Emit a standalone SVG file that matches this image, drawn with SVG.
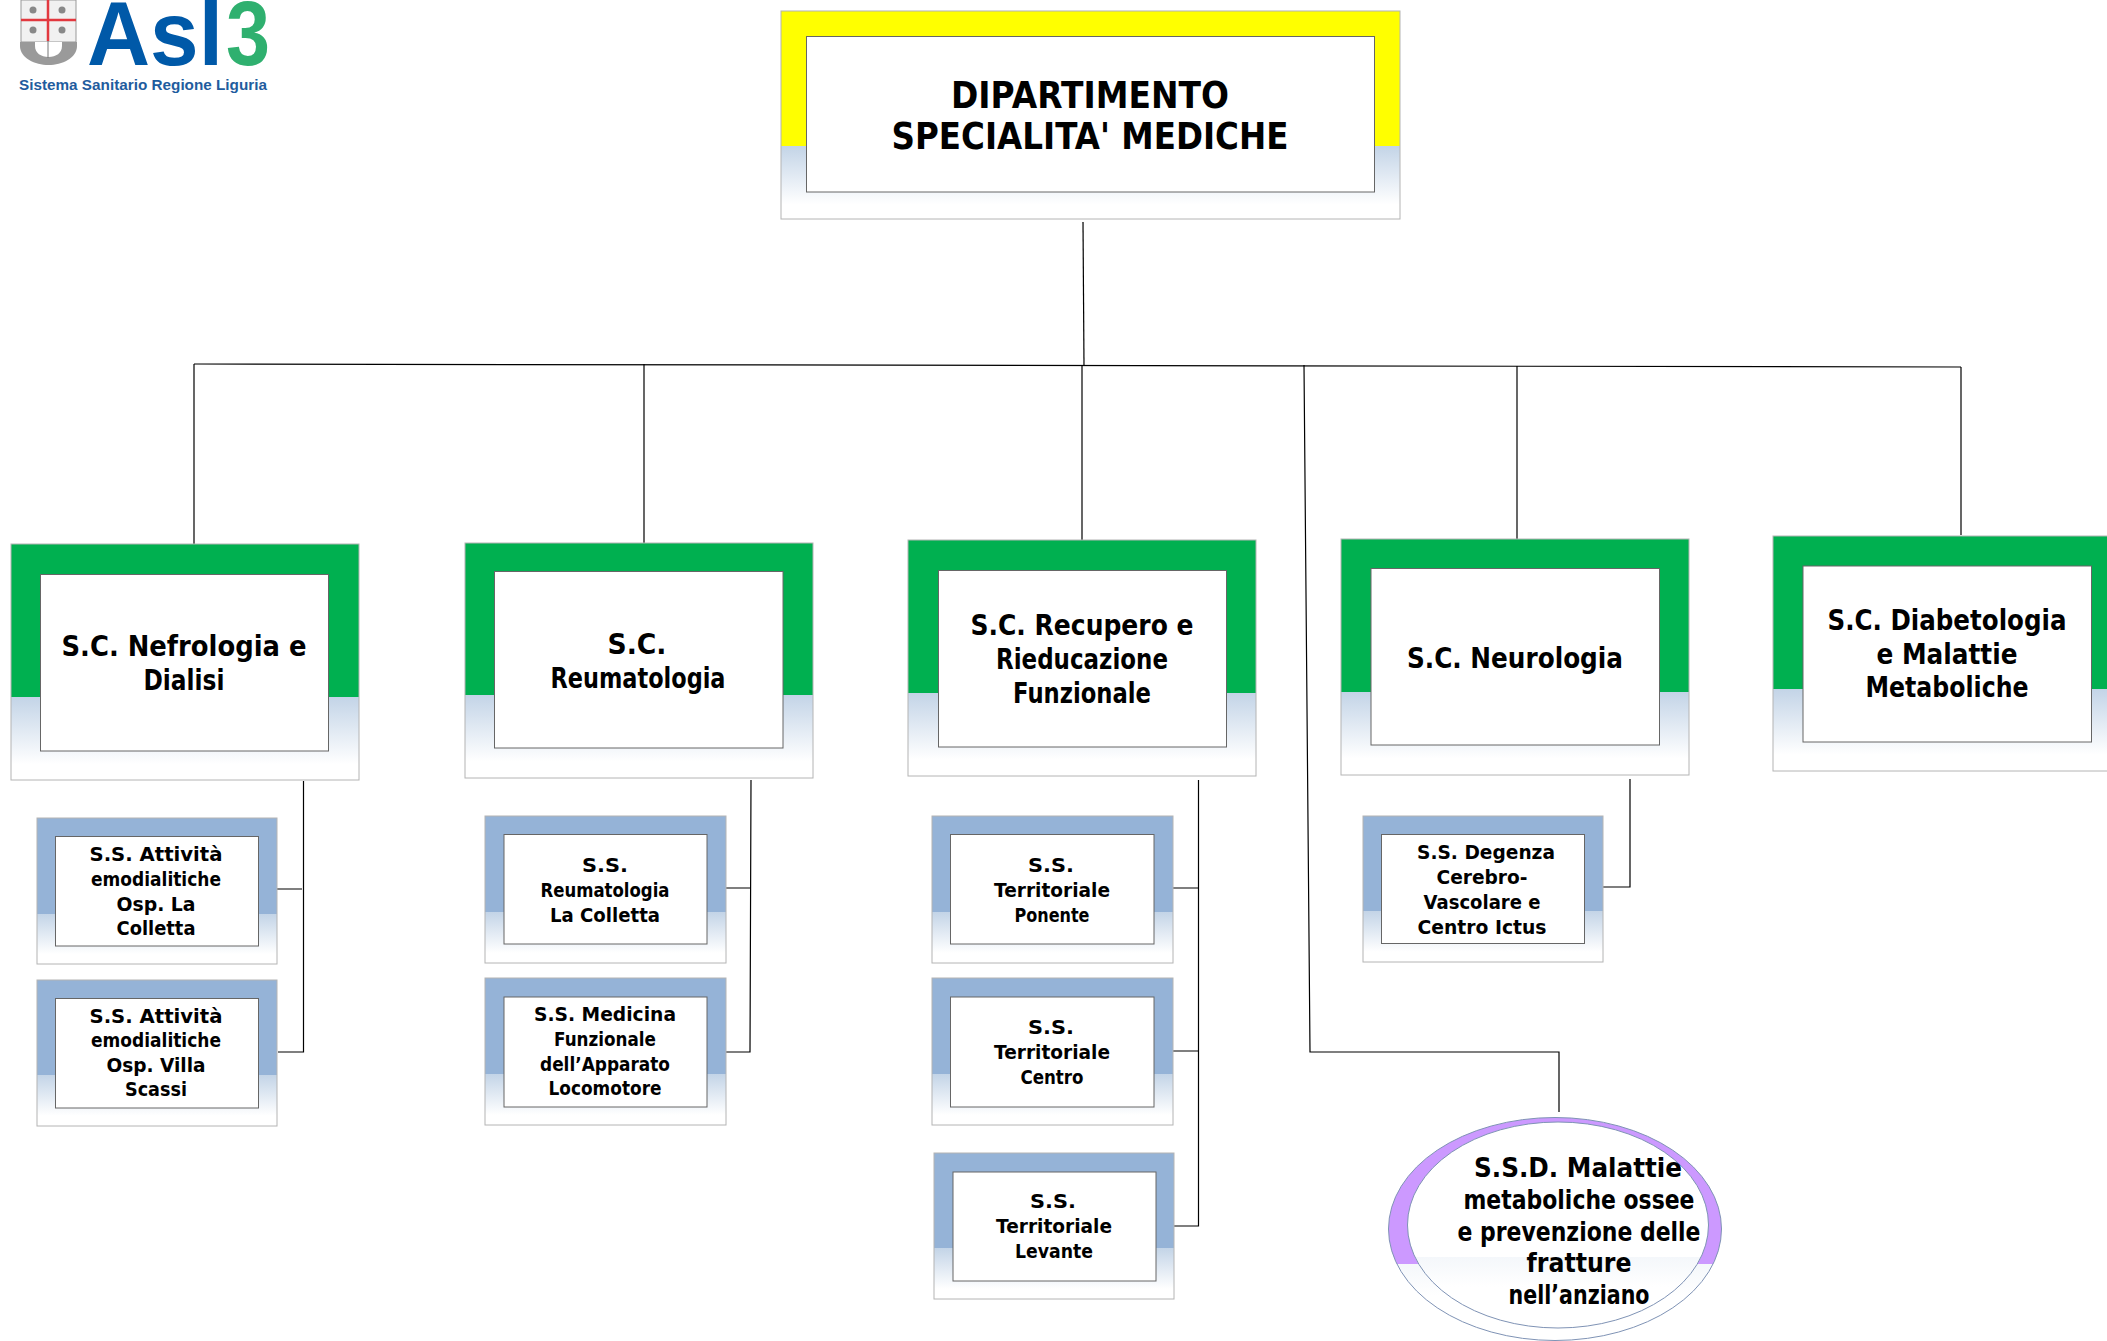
<svg xmlns="http://www.w3.org/2000/svg" width="2107" height="1341" viewBox="0 0 2107 1341">
<defs>
<linearGradient id="fade" x1="0" y1="0" x2="0" y2="1"><stop offset="0" stop-color="#c3d4e7"/><stop offset="0.8" stop-color="#ffffff"/></linearGradient>
<clipPath id="ellTop"><rect x="1380" y="1110" width="350" height="154"/></clipPath>
<clipPath id="ellBot"><rect x="1380" y="1264" width="350" height="77"/></clipPath>
<clipPath id="innerBot"><rect x="1380" y="1257" width="350" height="84"/></clipPath>
</defs>
<style>
text{font-family:"DejaVu Sans","Liberation Sans",sans-serif;font-weight:bold;fill:#000;text-anchor:middle}
.t{font-size:37px}.c{font-size:28px}.s{font-size:20px}.e{font-size:27px}
.o{fill:none;stroke:#b4b4b4;stroke-width:1}
.i{fill:#fff;stroke:#666;stroke-width:1}
.f{fill:url(#fade)}
.y{fill:#ffff00}.g{fill:#00b050}.b{fill:#95b3d7}.p{fill:#cc99ff}
.l{fill:none;stroke:#000;stroke-width:1.200}
</style>

<g id="logo">
<path d="M21 0H76V42H21Z" fill="#f1f1f1" stroke="#999" stroke-width="1"/>
<path d="M20 42H77V46C77 58 62 65 48.500 65C35 65 20 58 20 46Z" fill="#9a9a9a"/>
<path d="M35 42H62V46C62 53 56 57 48.500 57C41 57 35 53 35 46Z" fill="#fff"/>
<path d="M48 0V58" stroke="#777" stroke-width="1"/>
<path d="M48 0V41M21 20H76" stroke="#e2383f" stroke-width="2.500"/>
<circle cx="33" cy="10" r="3.500" fill="#888"/><circle cx="62" cy="10" r="3.500" fill="#888"/><circle cx="33" cy="30" r="3.500" fill="#888"/><circle cx="62" cy="30" r="3.500" fill="#888"/>
<text x="155" y="65" textLength="136" lengthAdjust="spacingAndGlyphs" style="font-family:'Liberation Sans',sans-serif;font-size:90px;fill:#0059a8">Asl</text>
<text x="248" y="65" textLength="44" lengthAdjust="spacingAndGlyphs" style="font-family:'Liberation Sans',sans-serif;font-size:90px;fill:#2fb06f">3</text>
<text x="143" y="90" textLength="248" lengthAdjust="spacingAndGlyphs" style="font-family:'Liberation Sans',sans-serif;font-size:15px;fill:#1f5c9e">Sistema Sanitario Regione Liguria</text>
</g>

<g id="connectors">
<path class="l" d="M1083 222L1084 365"/>
<path class="l" d="M194 364L1961 367"/>
<path class="l" d="M194 364V544"/>
<path class="l" d="M644 364V543"/>
<path class="l" d="M1082 365V540"/>
<path class="l" d="M1517 366V539"/>
<path class="l" d="M1961 367V535"/>
<path class="l" d="M1304 365L1310 1052H1559V1112"/>
<path class="l" d="M303.500 781V1052H278M277 889H302"/>
<path class="l" d="M751 780L750 1052H726M726 888H750"/>
<path class="l" d="M1198.500 780V1226H1174M1173 888H1198M1173 1051H1198"/>
<path class="l" d="M1630 779V887H1603"/>
</g>

<g id="dip">
<rect class="y" x="781" y="11" width="619" height="135"/><rect class="f" x="781" y="146" width="619" height="73"/><rect class="o" x="781" y="11" width="619" height="208"/>
<rect class="i" x="806.500" y="36.500" width="568" height="155.500"/>
<text class="t" x="1090" y="108" textLength="278" lengthAdjust="spacingAndGlyphs">DIPARTIMENTO</text>
<text class="t" x="1090" y="149" textLength="397" lengthAdjust="spacingAndGlyphs">SPECIALITA' MEDICHE</text>
</g>

<g id="sc1">
<rect class="g" x="11" y="544" width="348" height="153"/><rect class="f" x="11" y="697" width="348" height="84"/><rect class="o" x="11" y="544" width="348" height="236"/>
<rect class="i" x="40.500" y="574.500" width="288" height="176.500"/>
<text class="c" x="184" y="656" textLength="245" lengthAdjust="spacingAndGlyphs">S.C. Nefrologia e</text>
<text class="c" x="184" y="690" textLength="81" lengthAdjust="spacingAndGlyphs">Dialisi</text>
</g>
<g id="sc2">
<rect class="g" x="465" y="543" width="348" height="152"/><rect class="f" x="465" y="695" width="348" height="83"/><rect class="o" x="465" y="543" width="348" height="235"/>
<rect class="i" x="494.500" y="571.500" width="288.500" height="176.500"/>
<text class="c" x="637" y="654" textLength="59" lengthAdjust="spacingAndGlyphs">S.C.</text>
<text class="c" x="638" y="688" textLength="175" lengthAdjust="spacingAndGlyphs">Reumatologia</text>
</g>
<g id="sc3">
<rect class="g" x="908" y="540" width="348" height="153"/><rect class="f" x="908" y="693" width="348" height="83"/><rect class="o" x="908" y="540" width="348" height="236"/>
<rect class="i" x="938.500" y="570.500" width="288" height="176.500"/>
<text class="c" x="1082" y="635" textLength="223" lengthAdjust="spacingAndGlyphs">S.C. Recupero e</text>
<text class="c" x="1082" y="669" textLength="172" lengthAdjust="spacingAndGlyphs">Rieducazione</text>
<text class="c" x="1082" y="703" textLength="138" lengthAdjust="spacingAndGlyphs">Funzionale</text>
</g>
<g id="sc4">
<rect class="g" x="1341" y="539" width="348" height="153"/><rect class="f" x="1341" y="692" width="348" height="83"/><rect class="o" x="1341" y="539" width="348" height="236"/>
<rect class="i" x="1371" y="568.500" width="288.500" height="176.500"/>
<text class="c" x="1515" y="668" textLength="216" lengthAdjust="spacingAndGlyphs">S.C. Neurologia</text>
</g>
<g id="sc5">
<rect class="g" x="1773" y="536" width="348" height="153"/><rect class="f" x="1773" y="689" width="348" height="82"/><rect class="o" x="1773" y="536" width="348" height="235"/>
<rect class="i" x="1803" y="566" width="288.500" height="176"/>
<text class="c" x="1947" y="630" textLength="239" lengthAdjust="spacingAndGlyphs">S.C. Diabetologia</text>
<text class="c" x="1947" y="664" textLength="141" lengthAdjust="spacingAndGlyphs">e Malattie</text>
<text class="c" x="1947" y="697" textLength="163" lengthAdjust="spacingAndGlyphs">Metaboliche</text>
</g>

<g id="ss1">
<rect class="b" x="37" y="818" width="240" height="96"/><rect class="f" x="37" y="914" width="240" height="50"/><rect class="o" x="37" y="818" width="240" height="146"/>
<rect class="i" x="55.500" y="836.500" width="203" height="109.500"/>
<text class="s" x="156" y="861" textLength="133" lengthAdjust="spacingAndGlyphs">S.S. Attività</text>
<text class="s" x="156" y="886" textLength="130" lengthAdjust="spacingAndGlyphs">emodialitiche</text>
<text class="s" x="156" y="911" textLength="79" lengthAdjust="spacingAndGlyphs">Osp. La</text>
<text class="s" x="156" y="935" textLength="79" lengthAdjust="spacingAndGlyphs">Colletta</text>
</g>
<g id="ss2">
<rect class="b" x="37" y="980" width="240" height="95"/><rect class="f" x="37" y="1075" width="240" height="51"/><rect class="o" x="37" y="980" width="240" height="146"/>
<rect class="i" x="55.500" y="998.500" width="203" height="109.500"/>
<text class="s" x="156" y="1023" textLength="133" lengthAdjust="spacingAndGlyphs">S.S. Attività</text>
<text class="s" x="156" y="1047" textLength="130" lengthAdjust="spacingAndGlyphs">emodialitiche</text>
<text class="s" x="156" y="1072" textLength="99" lengthAdjust="spacingAndGlyphs">Osp. Villa</text>
<text class="s" x="156" y="1096" textLength="62" lengthAdjust="spacingAndGlyphs">Scassi</text>
</g>
<g id="ss3">
<rect class="b" x="485" y="816" width="241" height="96"/><rect class="f" x="485" y="912" width="241" height="51"/><rect class="o" x="485" y="816" width="241" height="147"/>
<rect class="i" x="504" y="834.500" width="203" height="109.500"/>
<text class="s" x="605" y="872" textLength="46" lengthAdjust="spacingAndGlyphs">S.S.</text>
<text class="s" x="605" y="897" textLength="129" lengthAdjust="spacingAndGlyphs">Reumatologia</text>
<text class="s" x="605" y="922" textLength="110" lengthAdjust="spacingAndGlyphs">La Colletta</text>
</g>
<g id="ss4">
<rect class="b" x="485" y="978" width="241" height="96"/><rect class="f" x="485" y="1074" width="241" height="51"/><rect class="o" x="485" y="978" width="241" height="147"/>
<rect class="i" x="504" y="997" width="203" height="110"/>
<text class="s" x="605" y="1021" textLength="142" lengthAdjust="spacingAndGlyphs">S.S. Medicina</text>
<text class="s" x="605" y="1046" textLength="102" lengthAdjust="spacingAndGlyphs">Funzionale</text>
<text class="s" x="605" y="1071" textLength="130" lengthAdjust="spacingAndGlyphs">dell’Apparato</text>
<text class="s" x="605" y="1095" textLength="113" lengthAdjust="spacingAndGlyphs">Locomotore</text>
</g>
<g id="ss5">
<rect class="b" x="932" y="816" width="241" height="96"/><rect class="f" x="932" y="912" width="241" height="51"/><rect class="o" x="932" y="816" width="241" height="147"/>
<rect class="i" x="950.500" y="834.500" width="203.500" height="109.500"/>
<text class="s" x="1051" y="872" textLength="46" lengthAdjust="spacingAndGlyphs">S.S.</text>
<text class="s" x="1052" y="897" textLength="116" lengthAdjust="spacingAndGlyphs">Territoriale</text>
<text class="s" x="1052" y="922" textLength="75" lengthAdjust="spacingAndGlyphs">Ponente</text>
</g>
<g id="ss6">
<rect class="b" x="932" y="978" width="241" height="96"/><rect class="f" x="932" y="1074" width="241" height="51"/><rect class="o" x="932" y="978" width="241" height="147"/>
<rect class="i" x="950.500" y="997" width="203.500" height="110"/>
<text class="s" x="1051" y="1034" textLength="46" lengthAdjust="spacingAndGlyphs">S.S.</text>
<text class="s" x="1052" y="1059" textLength="116" lengthAdjust="spacingAndGlyphs">Territoriale</text>
<text class="s" x="1052" y="1084" textLength="63" lengthAdjust="spacingAndGlyphs">Centro</text>
</g>
<g id="ss7">
<rect class="b" x="934" y="1153" width="240" height="95"/><rect class="f" x="934" y="1248" width="240" height="51"/><rect class="o" x="934" y="1153" width="240" height="146"/>
<rect class="i" x="953" y="1172" width="203" height="109"/>
<text class="s" x="1053" y="1208" textLength="46" lengthAdjust="spacingAndGlyphs">S.S.</text>
<text class="s" x="1054" y="1233" textLength="116" lengthAdjust="spacingAndGlyphs">Territoriale</text>
<text class="s" x="1054" y="1258" textLength="78" lengthAdjust="spacingAndGlyphs">Levante</text>
</g>
<g id="ss8">
<rect class="b" x="1363" y="816" width="240" height="95"/><rect class="f" x="1363" y="911" width="240" height="51"/><rect class="o" x="1363" y="816" width="240" height="146"/>
<rect class="i" x="1381.500" y="834.500" width="203" height="109"/>
<text class="s" x="1486" y="859" textLength="138" lengthAdjust="spacingAndGlyphs">S.S. Degenza</text>
<text class="s" x="1482" y="884" textLength="91" lengthAdjust="spacingAndGlyphs">Cerebro-</text>
<text class="s" x="1482" y="909" textLength="117" lengthAdjust="spacingAndGlyphs">Vascolare e</text>
<text class="s" x="1482" y="934" textLength="129" lengthAdjust="spacingAndGlyphs">Centro Ictus</text>
</g>

<g id="ssd">
<ellipse class="p" cx="1555" cy="1229" rx="166.500" ry="111.500" clip-path="url(#ellTop)"/>
<ellipse class="f" cx="1555" cy="1229" rx="166.500" ry="111.500" clip-path="url(#ellBot)"/>
<ellipse cx="1555" cy="1229" rx="166.500" ry="111.500" fill="none" stroke="#7f93b5" stroke-width="1"/>
<ellipse cx="1558" cy="1225" rx="150.500" ry="103" fill="#fff"/>
<ellipse class="f" cx="1558" cy="1225" rx="150.500" ry="103" clip-path="url(#innerBot)"/>
<ellipse cx="1558" cy="1225" rx="150.500" ry="103" fill="none" stroke="#7f93b5" stroke-width="1"/>
<text class="e" x="1578" y="1177" textLength="208" lengthAdjust="spacingAndGlyphs">S.S.D. Malattie</text>
<text class="e" x="1579" y="1209" textLength="231" lengthAdjust="spacingAndGlyphs">metaboliche ossee</text>
<text class="e" x="1579" y="1241" textLength="243" lengthAdjust="spacingAndGlyphs">e prevenzione delle</text>
<text class="e" x="1579" y="1272" textLength="105" lengthAdjust="spacingAndGlyphs">fratture</text>
<text class="e" x="1579" y="1304" textLength="141" lengthAdjust="spacingAndGlyphs">nell’anziano</text>
</g>
</svg>
